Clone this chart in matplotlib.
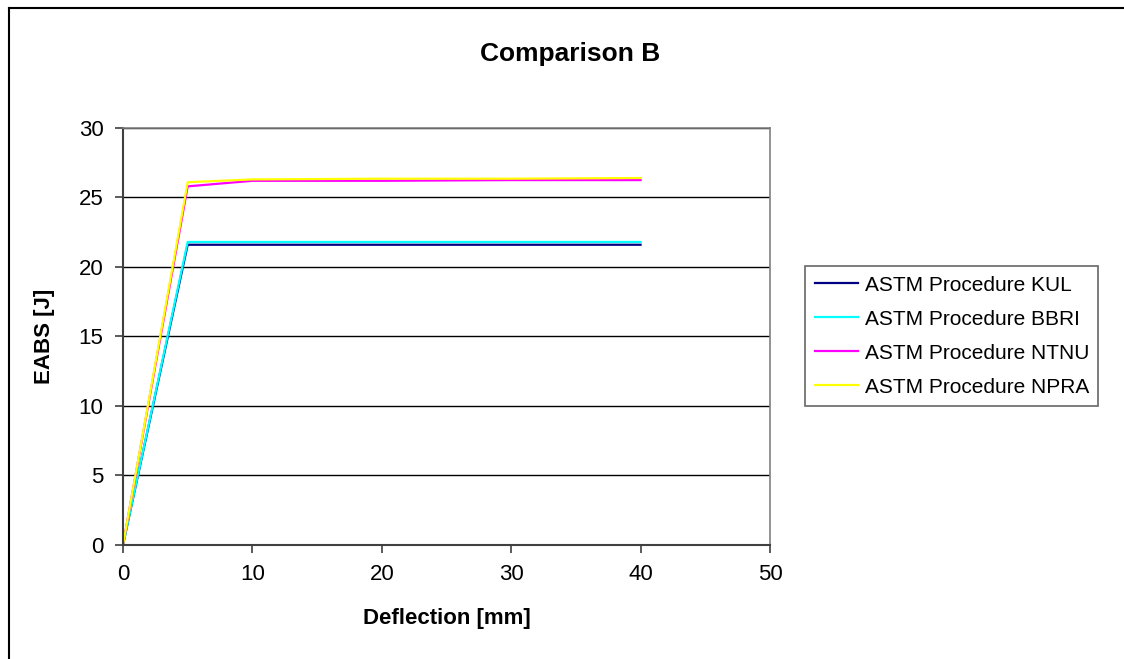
import matplotlib.pyplot as plt
from matplotlib.lines import Line2D

plt.rcParams['font.family'] = ['Liberation Sans', 'DejaVu Sans']

# Data
deflection = [0, 5, 10, 20, 30, 40]
kul = [0, 21.6, 21.6, 21.6, 21.6, 21.6]
bbri = [0, 21.8, 21.8, 21.8, 21.8, 21.8]
ntnu = [0, 25.8, 26.2, 26.2, 26.25, 26.25]
npra = [0, 26.1, 26.3, 26.35, 26.35, 26.4]

series = [("ASTM Procedure KUL", kul, "#000080"),
          ("ASTM Procedure BBRI", bbri, "#00FFFF"),
          ("ASTM Procedure NTNU", ntnu, "#FF00FF"),
          ("ASTM Procedure NPRA", npra, "#FFFF00")]

fig = plt.figure(figsize=(11.24, 6.59), dpi=100)
ax = fig.add_axes([0.1094, 0.173, 0.5756, 0.6328])

for label, vals, col in series:
    ax.plot(deflection, vals, color=col, linewidth=1.6, label=label)

ax.set_xlim(0, 50)
ax.set_ylim(0, 30)
ax.set_xticks(range(0, 51, 10))
ax.set_yticks(range(0, 31, 5))
ax.yaxis.grid(True, color="black", linewidth=1.0)
ax.set_axisbelow(True)
ax.tick_params(direction="out", length=6, width=1.2, labelsize=16, color="#404040", pad=8)

for side in ["top", "right"]:
    ax.spines[side].set_color("#808080")
    ax.spines[side].set_linewidth(1.2)
for side in ["left", "bottom"]:
    ax.spines[side].set_color("#404040")
    ax.spines[side].set_linewidth(1.5)

ax.set_xlabel("Deflection [mm]", fontsize=16, fontweight="bold", labelpad=16)
ax.set_ylabel("EABS [J]", fontsize=16, fontweight="bold", labelpad=17)
fig.text(0.507, 0.918, "Comparison B", ha="center", va="center",
         fontsize=19, fontweight="bold")

leg = ax.legend(loc="center left", bbox_to_anchor=(1.0544, 0.501), fontsize=15,
                frameon=True, fancybox=False, handlelength=2.1,
                handletextpad=0.3, labelspacing=0.72, borderpad=0.45,
                borderaxespad=0)
leg.get_frame().set_edgecolor("#404040")
leg.get_frame().set_linewidth(1.2)

# Outer chart border (left and top edges)
fig.add_artist(Line2D([9 / 1124, 9 / 1124], [0, 1 - 8 / 659],
                      transform=fig.transFigure, color="black", linewidth=1.5))
fig.add_artist(Line2D([9 / 1124, 1], [1 - 8 / 659, 1 - 8 / 659],
                      transform=fig.transFigure, color="black", linewidth=1.5))

fig.savefig("out.png", dpi=100)
